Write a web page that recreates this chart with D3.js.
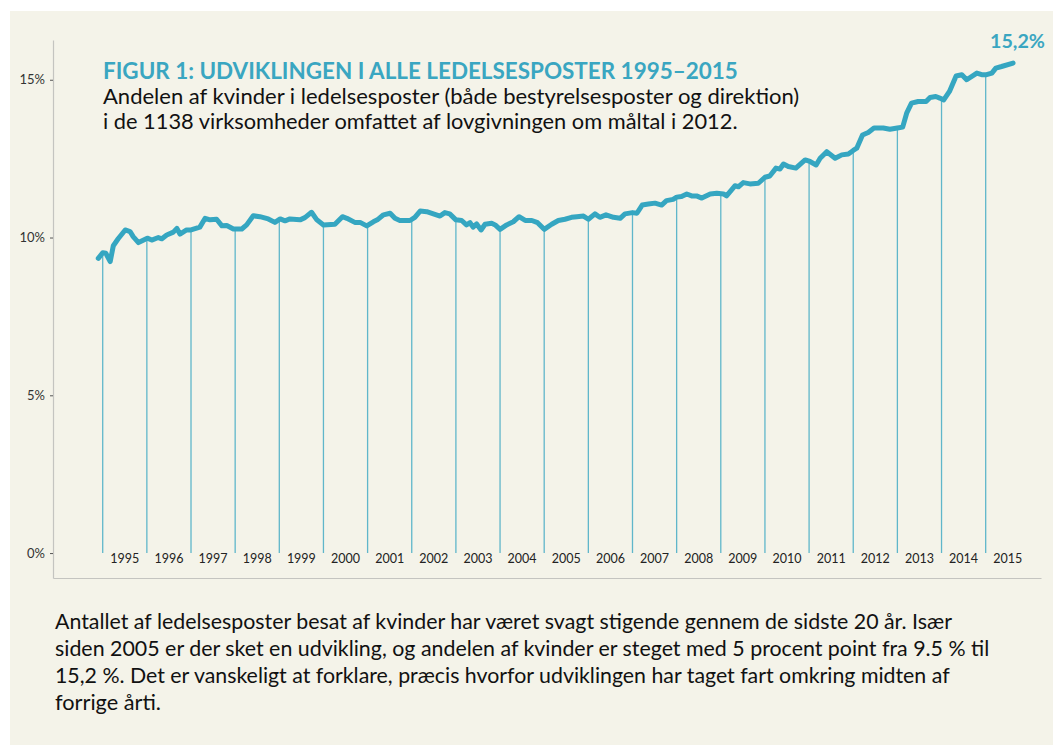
<!DOCTYPE html>
<html>
<head>
<meta charset="utf-8">
<script src="https://cdn.jsdelivr.net/npm/d3@7"></script>
<style>
  body { margin: 0; background: #fff; }
  text { font-family: Lato, "Open Sans", sans-serif; }
</style>
</head>
<body>
<svg id="chart" width="1053" height="745"></svg>
<script>
// decimal year of each reading
const time = [1994.90,1995.00,1995.07,1995.17,1995.24,1995.35,1995.51,1995.62,1995.69,1995.81,
  1996.01,1996.11,1996.26,1996.34,1996.45,1996.60,1996.68,1996.75,1996.90,
  1997.00,1997.20,1997.32,1997.43,1997.58,1997.70,1997.81,1997.96,
  1998.15,1998.26,1998.41,1998.56,1998.75,1998.90,
  1999.02,1999.13,1999.24,1999.47,1999.58,1999.73,1999.85,
  2000.00,2000.26,2000.43,2000.53,2000.71,2000.83,2000.98,
  2001.13,2001.22,2001.36,2001.51,2001.62,2001.73,2001.96,
  2002.07,2002.19,2002.34,2002.49,2002.64,2002.75,2002.86,
  2003.00,2003.13,2003.24,2003.32,2003.39,2003.47,2003.57,2003.66,2003.81,2003.89,
  2004.00,2004.15,2004.30,2004.43,2004.57,2004.72,2004.85,
  2005.00,2005.17,2005.32,2005.47,2005.62,2005.74,2005.89,
  2006.00,2006.15,2006.26,2006.40,2006.57,2006.72,2006.83,
  2007.00,2007.10,2007.22,2007.36,2007.51,2007.66,2007.77,2007.92,
  2008.00,2008.11,2008.23,2008.34,2008.45,2008.57,2008.76,2008.91,
  2009.06,2009.13,2009.32,2009.40,2009.51,2009.66,2009.85,
  2010.00,2010.11,2010.25,2010.34,2010.42,2010.53,2010.70,2010.91,
  2011.02,2011.16,2011.25,2011.40,2011.59,2011.74,2011.89,
  2012.00,2012.08,2012.21,2012.34,2012.47,2012.68,2012.83,
  2013.00,2013.12,2013.21,2013.32,2013.47,2013.65,2013.74,2013.87,2013.96,
  2014.05,2014.18,2014.33,2014.46,2014.57,2014.80,2014.91,
  2015.02,2015.14,2015.23,2015.36,2015.62];

// share of women in management posts, percent
const share = [9.34,9.52,9.50,9.24,9.74,9.96,10.24,10.19,10.03,9.84,
  9.98,9.92,10.00,9.96,10.08,10.17,10.29,10.11,10.24,
  10.24,10.33,10.61,10.56,10.58,10.37,10.38,10.27,
  10.27,10.40,10.69,10.66,10.59,10.48,
  10.59,10.53,10.59,10.56,10.63,10.80,10.56,
  10.40,10.42,10.66,10.61,10.48,10.48,10.37,
  10.50,10.56,10.72,10.77,10.61,10.54,10.54,
  10.64,10.84,10.82,10.75,10.68,10.79,10.75,
  10.56,10.54,10.40,10.47,10.33,10.43,10.24,10.42,10.45,10.40,
  10.26,10.40,10.50,10.66,10.54,10.54,10.47,
  10.26,10.42,10.54,10.58,10.64,10.66,10.68,
  10.58,10.75,10.64,10.72,10.64,10.61,10.75,
  10.79,10.77,11.03,11.06,11.09,11.03,11.17,11.21,
  11.28,11.30,11.38,11.32,11.32,11.25,11.38,11.40,
  11.38,11.32,11.64,11.61,11.74,11.70,11.72,
  11.91,11.95,12.20,12.17,12.33,12.25,12.20,12.46,
  12.41,12.30,12.51,12.72,12.51,12.62,12.65,
  12.76,12.83,13.25,13.33,13.47,13.47,13.43,
  13.47,13.50,13.94,14.26,14.31,14.31,14.44,14.47,14.42,
  14.36,14.63,15.12,15.16,15.00,15.21,15.16,
  15.16,15.21,15.37,15.42,15.53];

const years = d3.range(1995, 2016);          // year labels
const boundaries = d3.range(1995, 2016);     // drop lines at start of each year
const yTicks = [0, 5, 10, 15];

const title = "FIGUR 1: UDVIKLINGEN I ALLE LEDELSESPOSTER 1995\u20132015";
const subtitle = ["Andelen af kvinder i ledelsesposter (både bestyrelsesposter og direktion)",
                  "i de 1138 virksomheder omfattet af lovgivningen om måltal i 2012."];
const endLabel = "15,2%";
const caption = ["Antallet af ledelsesposter besat af kvinder har været svagt stigende gennem de sidste 20 år. Især",
                 "siden 2005 er der sket en udvikling, og andelen af kvinder er steget med 5 procent point fra 9.5 % til",
                 "15,2 %. Det er vanskeligt at forklare, præcis hvorfor udviklingen har taget fart omkring midten af",
                 "forrige årti."];

const teal = "#35a6c1";
const svg = d3.select("#chart");

svg.append("rect")
    .attr("x", 10).attr("y", 11)
    .attr("width", 1043).attr("height", 734)
    .attr("fill", "#f4f3e9");

const x = d3.scaleLinear().domain([1993.874, 2016.253]).range([53, 1041]);
const y = d3.scaleLinear().domain([-0.79, 16.26]).range([578, 40]);

// shrink / grow a text so it spans the given width
function fit(sel, width) {
    sel.each(function () {
        const fs = parseFloat(d3.select(this).style("font-size"));
        const w = this.getComputedTextLength();
        d3.select(this).style("font-size", (fs * width / w) + "px");
    });
}

// axes
const yAxis = svg.append("g")
    .attr("transform", "translate(53,0)")
    .call(d3.axisLeft(y).tickValues(yTicks).tickSize(3).tickPadding(5)
        .tickSizeOuter(0).tickFormat(d => d + "%"));
yAxis.select(".domain").attr("stroke", "#c4c4c0").attr("stroke-width", 1.2);
yAxis.selectAll(".tick line").attr("stroke", "#555");
yAxis.selectAll(".tick text")
    .style("font-family", "Lato, sans-serif")
    .style("font-size", "13px").attr("fill", "#333");

const xAxis = svg.append("g")
    .attr("transform", "translate(0,578)")
    .call(d3.axisBottom(x).tickValues([]).tickSizeOuter(0));
xAxis.select(".domain").attr("stroke", "#c4c4c0").attr("stroke-width", 1.2);

// value on the curve at time t
const bis = d3.bisector(d => d).left;
function valueAt(t) {
    const i = Math.max(1, Math.min(time.length - 1, bis(time, t)));
    const t0 = time[i - 1], t1 = time[i];
    const k = (t - t0) / (t1 - t0);
    return share[i - 1] + (share[i] - share[i - 1]) * k;
}

svg.append("g").selectAll("line")
    .data(boundaries)
    .join("line")
    .attr("x1", d => x(d)).attr("x2", d => x(d))
    .attr("y1", y(0))
    .attr("y2", d => y(valueAt(d)))
    .attr("stroke", "#5fb6ca")
    .attr("stroke-width", 1.3);

svg.append("g").selectAll("text")
    .data(years)
    .join("text")
    .attr("x", d => x(d + 0.5))
    .attr("y", 563)
    .attr("text-anchor", "middle")
    .style("font-size", "12.5px")
    .attr("fill", "#222")
    .text(d => d);

const line = d3.line()
    .x((d, i) => x(time[i]))
    .y(d => y(d));

svg.append("path")
    .datum(share)
    .attr("d", line)
    .attr("fill", "none")
    .attr("stroke", teal)
    .attr("stroke-width", 5)
    .attr("stroke-linejoin", "round")
    .attr("stroke-linecap", "round");

// titles
svg.append("text")
    .attr("x", 103).attr("y", 78.5)
    .style("font-size", "22px").style("font-weight", 700)
    .attr("fill", "#3aa6c1")
    .text(title)
    .call(fit, 635);

svg.selectAll(".sub")
    .data(subtitle)
    .join("text")
    .attr("class", "sub")
    .attr("x", 103)
    .attr("y", (d, i) => 104 + i * 24.5)
    .style("font-size", "19px")
    .attr("fill", "#111")
    .text(d => d)
    .each(function (d, i) { d3.select(this).call(fit, [697, 635][i]); });

svg.append("text")
    .attr("x", 990).attr("y", 47.5)
    .style("font-size", "18px").style("font-weight", 700)
    .attr("fill", "#3aa6c1")
    .text(endLabel)
    .call(fit, 55);

svg.selectAll(".cap")
    .data(caption)
    .join("text")
    .attr("class", "cap")
    .attr("x", 55)
    .attr("y", (d, i) => 629 + i * 27)
    .style("font-size", "19px")
    .attr("fill", "#111")
    .text(d => d)
    .each(function (d, i) { d3.select(this).call(fit, [897, 935, 895, 106][i]); });
</script>
</body>
</html>
